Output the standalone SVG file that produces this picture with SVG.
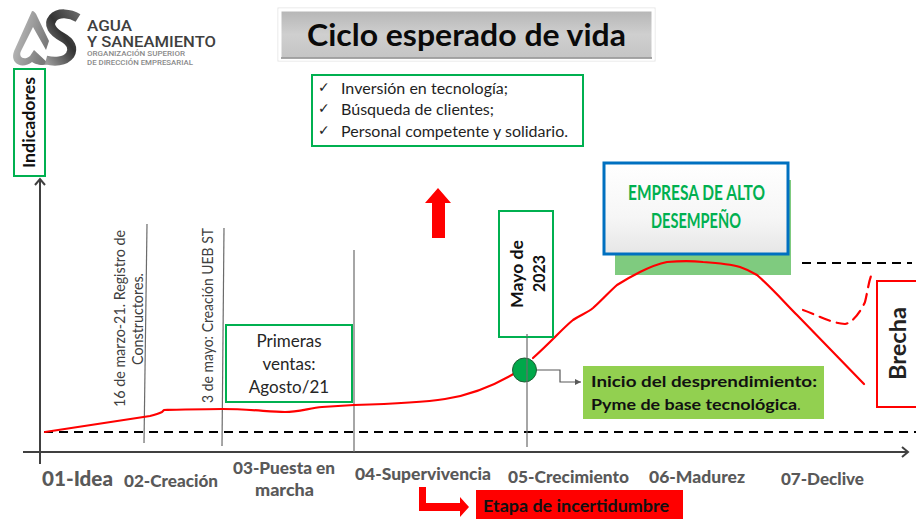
<svg xmlns="http://www.w3.org/2000/svg" width="916" height="519" viewBox="0 0 916 519">
<style>
text{font-family:"Lato","Open Sans","Liberation Sans",sans-serif;}
.grn{fill:#fff;stroke:#00b050;stroke-width:2;}
.ax{stroke:#404040;stroke-width:2;fill:none;}
.vl{stroke:#6b6b6b;stroke-width:1.2;fill:none;}
.dash{stroke:#000;stroke-width:2;stroke-dasharray:9 6;fill:none;}
.red{stroke:#ff0000;stroke-width:2.2;fill:none;stroke-linejoin:round;stroke-linecap:round;}
.st{font-size:16px;font-weight:900;fill:#595959;}
.rot{font-size:15px;fill:#404040;text-anchor:middle;}
.li{font-size:15.5px;fill:#1f1f1f;}
.b{font-weight:700;fill:#111;}
.chk{font-size:14px;fill:#1f1f1f;font-family:"DejaVu Sans",sans-serif;}
.logo{fill:#3f3f3f;font-weight:500;font-family:Roboto,sans-serif;}
.logos{fill:#8a8a8a;font-size:6.500px;font-weight:500;font-family:Roboto,sans-serif;}
</style>
<defs>
<linearGradient id="gt" x1="0" y1="0" x2="0" y2="1"><stop offset="0" stop-color="#b5b5b5"/><stop offset=".5" stop-color="#cfcfcf"/><stop offset="1" stop-color="#c4c4c4"/></linearGradient>
<linearGradient id="gb" x1="0" y1="0" x2="0" y2="1"><stop offset="0" stop-color="#fff"/><stop offset=".6" stop-color="#f6f6f6"/><stop offset="1" stop-color="#e6e6e6"/></linearGradient>
<linearGradient id="ga" x1="0" y1="0" x2="1" y2="0.4"><stop offset="0" stop-color="#c8c8c8"/><stop offset="1" stop-color="#7a7a7a"/></linearGradient>
<linearGradient id="gs" x1="0" y1="1" x2="1" y2="0"><stop offset="0" stop-color="#9a9a9a"/><stop offset=".55" stop-color="#333"/><stop offset="1" stop-color="#666"/></linearGradient>
<marker id="mk" markerWidth="6" markerHeight="6" refX="5" refY="3" orient="auto"><path d="M0 .5L5 3L0 5.500z" fill="#595959"/></marker>
<marker id="chev" markerWidth="12" markerHeight="12" refX="8" refY="6" orient="auto" markerUnits="userSpaceOnUse"><path d="M2 1L8 6L2 11" fill="none" stroke="#404040" stroke-width="2"/></marker>
</defs>

<g id="logo">
<path d="M32 11C34 11 36 13 37 16L49 41L46 50L33 27L21 51C18 57 24 61 30 56L34 50L49 64L43 65C37 65 34 63 32 62C27 66 19 67 15 62C12 58 13 53 15 49Z" fill="url(#ga)"/>
<path d="M78 18C70 13 58 12 53 18C47 25 53 32 62 37C71 42 74 48 70 55C65 62 54 62 46 60" fill="none" stroke="url(#gs)" stroke-width="9"/>
<text class="logo" x="87" y="31" font-size="14" textLength="45" lengthAdjust="spacingAndGlyphs">AGUA</text>
<text class="logo" x="87" y="46.500" font-size="14" textLength="129" lengthAdjust="spacingAndGlyphs">Y SANEAMIENTO</text>
<text class="logos" x="87" y="56" textLength="98" lengthAdjust="spacingAndGlyphs">ORGANIZACIÓN SUPERIOR</text>
<text class="logos" x="87" y="65" textLength="106" lengthAdjust="spacingAndGlyphs">DE DIRECCIÓN EMPRESARIAL</text>
</g>

<g id="titulo">
<rect x="278" y="8" width="377" height="53" fill="none" stroke="#e4e4e4" stroke-width="1"/>
<rect x="280" y="10" width="373" height="49" fill="url(#gt)" stroke="#fff" stroke-width="3"/>
<path d="M281 58H652" stroke="#8a8a8a" stroke-width="1.500"/>
<text x="307" y="46" font-size="30" font-weight="700" fill="#0a0a0a" textLength="319" lengthAdjust="spacingAndGlyphs">Ciclo esperado de vida</text>
</g>

<g id="lista">
<rect class="grn" x="312" y="75" width="271" height="71"/>
<text class="chk" x="318" y="92">✓</text>
<text class="chk" x="318" y="113">✓</text>
<text class="chk" x="318" y="135">✓</text>
<text class="li" x="341" y="94" textLength="167" lengthAdjust="spacingAndGlyphs">Inversión en tecnología;</text>
<text class="li" x="341" y="115" textLength="153" lengthAdjust="spacingAndGlyphs">Búsqueda de clientes;</text>
<text class="li" x="341" y="137" textLength="227" lengthAdjust="spacingAndGlyphs">Personal competente y solidario.</text>
</g>

<g id="empresa">
<rect x="615" y="180" width="176" height="95" fill="#7fcb7f"/>
<rect x="604" y="163" width="184" height="91" fill="url(#gb)" stroke="#0070c0" stroke-width="3"/>
<g font-weight="700" fill="#00b050" font-size="21" style="font-family:'Liberation Sans',sans-serif">
<text x="628" y="200" textLength="137" lengthAdjust="spacingAndGlyphs">EMPRESA DE ALTO</text>
<text x="651" y="228" textLength="90" lengthAdjust="spacingAndGlyphs">DESEMPEÑO</text>
</g>
</g>

<g id="connectors">
<path class="ax" d="M40 464V179" marker-end="url(#chev)"/>
<path class="ax" d="M23 452H908" marker-end="url(#chev)"/>
<path class="dash" d="M44 432H916"/>
<path class="dash" d="M802 263H912"/>
<path class="vl" d="M147 224L144 443"/>
<path class="vl" d="M224 228L222 446"/>
<path class="vl" d="M354 250V452"/>
<path class="vl" d="M527 334V447"/>
<path class="red" d="M45 432L150 416Q158 414 162 412L164 410C185 409.500 205 409 222 409C250 409 270 412 285 412C298 412 310 408 322 407L354 405C390 404 420 403 445 399C470 395 495 385 515 373"/>
<path class="red" d="M533 358C542 350 549 343 557 335C563 329 568 324 573 320C580 315 587 313 593 308C601 301 609 292 617 285C625 280 632 276 640 272C648 268 657 264 667 262C680 261 693 261 703 262C717 263 730 264 740 267C746 269 752 272 757 275C772 288 785 303 797 315L864 384"/>
<path class="red" d="M803 310C815 314 830 323 845 324C852 323 860 313 865 302C868 290 869 278 873 272" stroke-dasharray="11 7"/>
<path d="M537 370H560V382H581" fill="none" stroke="#595959" stroke-width="1.200" marker-end="url(#mk)"/>
<path d="M438 188L451 203H445V238H432V203H425Z" fill="#ff0000"/>
<path d="M419 487H426V503H460V497L469 507L460 517V511H419Z" fill="#ff0000"/>
</g>

<g id="indicadores">
<rect class="grn" x="14" y="69" width="31" height="107"/>
<text class="b" transform="translate(35 168) rotate(-90)" font-size="17" textLength="91" lengthAdjust="spacingAndGlyphs">Indicadores</text>
</g>

<g id="hito-registro">
<text class="rot" transform="translate(124.500 318.500) rotate(-90)" textLength="177" lengthAdjust="spacingAndGlyphs">16 de marzo-21. Registro de</text>
<text class="rot" transform="translate(143 319) rotate(-90)" textLength="92" lengthAdjust="spacingAndGlyphs">Constructores.</text>
</g>
<g id="hito-uebst">
<text class="rot" transform="translate(213 315.500) rotate(-90)" textLength="175" lengthAdjust="spacingAndGlyphs">3 de mayo: Creación UEB ST</text>
</g>

<g id="primeras">
<rect class="grn" x="226" y="325" width="126" height="77"/>
<g font-size="17" fill="#262626" text-anchor="middle">
<text x="289" y="347">Primeras</text>
<text x="289" y="370">ventas:</text>
<text x="289" y="393">Agosto/21</text>
</g>
</g>

<g id="mayo">
<rect class="grn" x="499" y="211" width="54" height="126"/>
<text class="b" transform="translate(523 308) rotate(-90)" font-size="17" textLength="68" lengthAdjust="spacingAndGlyphs">Mayo de</text>
<text class="b" transform="translate(545 292) rotate(-90)" font-size="17" textLength="37" lengthAdjust="spacingAndGlyphs">2023</text>
<path d="M527 334V337" class="vl"/>
</g>

<g id="punto">
<circle cx="524.500" cy="370" r="12" fill="#00a84a" stroke="#1f5c33" stroke-width="1"/>
<path d="M527 358V382" class="vl"/>
</g>

<g id="inicio">
<rect x="583" y="366" width="241" height="53" fill="#92d050"/>
<text class="b" x="591" y="387" font-size="16" textLength="226" lengthAdjust="spacingAndGlyphs">Inicio del desprendimiento:</text>
<text class="b" x="591" y="410" font-size="16" textLength="206" lengthAdjust="spacingAndGlyphs">Pyme de base tecnológica</text>
<text x="797" y="410" font-size="15.500" fill="#333">.</text>
</g>

<g id="brecha">
<rect x="877" y="281" width="44" height="126" fill="#fff" stroke="#ff0000" stroke-width="2"/>
<text transform="translate(906 380) rotate(-90)" font-size="23" font-weight="700" fill="#222" textLength="73" lengthAdjust="spacingAndGlyphs">Brecha</text>
</g>

<g id="etapas">
<text class="st" x="42" y="486" style="font-size:20px" textLength="71" lengthAdjust="spacingAndGlyphs">01-Idea</text>
<text class="st" x="124" y="487" textLength="94" lengthAdjust="spacingAndGlyphs">02-Creación</text>
<text class="st" x="233" y="474" textLength="102" lengthAdjust="spacingAndGlyphs">03-Puesta en</text>
<text class="st" x="255" y="496" textLength="59" lengthAdjust="spacingAndGlyphs">marcha</text>
<text class="st" x="355" y="480" textLength="136" lengthAdjust="spacingAndGlyphs">04-Supervivencia</text>
<text class="st" x="508" y="483" textLength="121" lengthAdjust="spacingAndGlyphs">05-Crecimiento</text>
<text class="st" x="649" y="483" textLength="96" lengthAdjust="spacingAndGlyphs">06-Madurez</text>
<text class="st" x="781" y="485" textLength="83" lengthAdjust="spacingAndGlyphs">07-Declive</text>
</g>

<g id="incertidumbre">
<rect x="476" y="490" width="207" height="29" fill="#ff0000"/>
<text class="b" x="483" y="512" font-size="17" fill="#220000" textLength="186" lengthAdjust="spacingAndGlyphs">Etapa de incertidumbre</text>
</g>
</svg>
